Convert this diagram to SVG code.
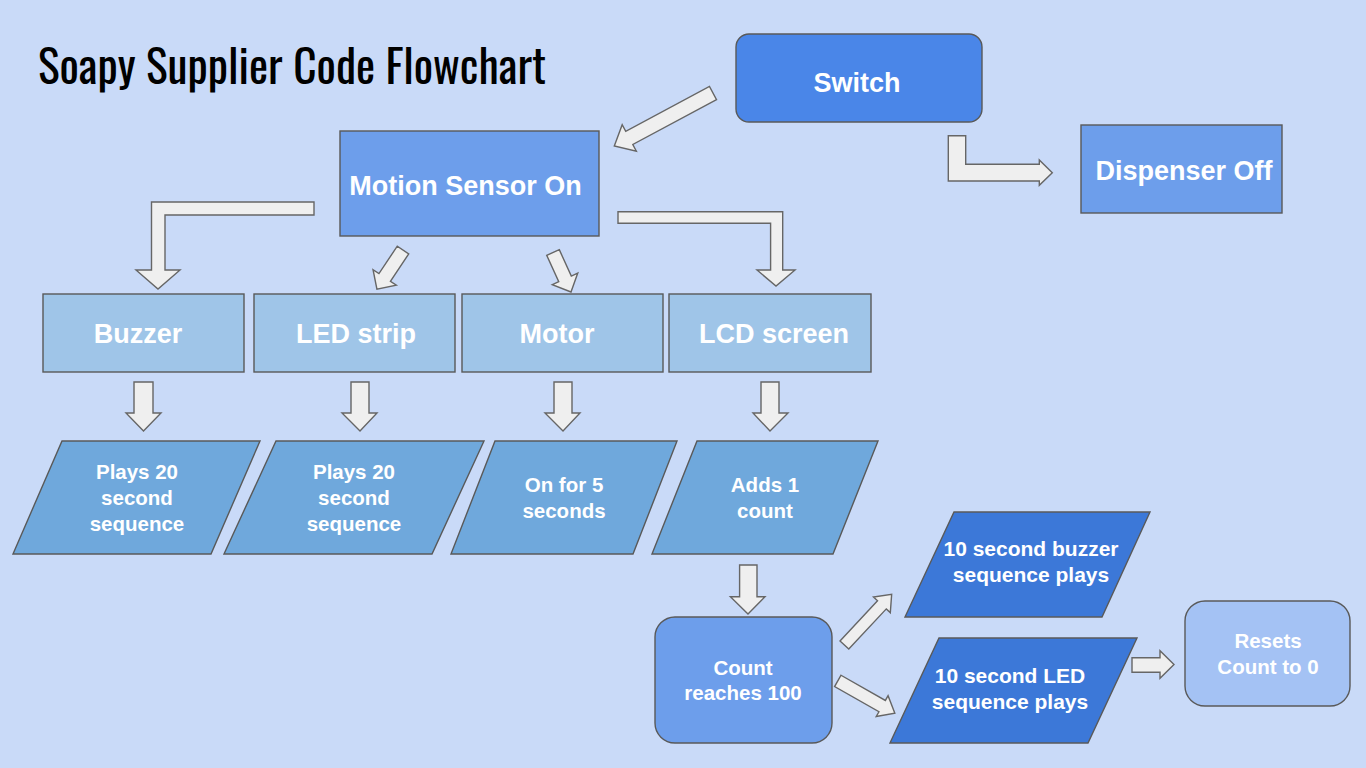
<svg xmlns="http://www.w3.org/2000/svg" width="1366" height="768" viewBox="0 0 1366 768">
<style>
.nd{stroke:#595959;stroke-width:1.4}
.ar{fill:#efefef;stroke:#666666;stroke-width:1.4;stroke-linejoin:miter}
.t{font-family:"Liberation Sans",Arial,sans-serif;font-weight:bold;fill:#ffffff;text-anchor:middle}
.big{font-size:27px}
.sm{font-size:20.5px}
.sm2{font-size:21px}
</style>
<rect x="0" y="0" width="1366" height="768" fill="#c9daf8"/>
<text x="38" y="83.5" font-family="Oswald,'Liberation Sans Narrow','Liberation Sans',sans-serif" font-size="46" fill="#000000" textLength="508" lengthAdjust="spacingAndGlyphs">Soapy Supplier Code Flowchart</text>

<g id="connectors">
  <path class="ar" transform="translate(713,93) rotate(151.8)" d="M0,-7.5 L95,-7.5 L95,-15 L112,0 L95,15 L95,7.5 L0,7.5 Z"/>
  <path class="ar" d="M948.3,135.7 L965.7,135.7 L965.7,164.3 L1039.3,164.3 L1039.3,160 L1052.3,172.7 L1039.3,185.3 L1039.3,181 L948.3,181 Z"/>
  <path class="ar" d="M314,202 L151.5,202 L151.5,270 L136,270 L158,289 L180,270 L165,270 L165,215 L314,215 Z"/>
  <path class="ar" d="M618,211.7 L782.7,211.7 L782.7,270 L795,270 L776,286 L757,270 L770.6,270 L770.6,223.3 L618,223.3 Z"/>
  <path class="ar" transform="translate(403,250) rotate(123.7)" d="M0,-6.9 L33,-6.9 L33,-14 L47,0 L33,14 L33,6.9 L0,6.9 Z"/>
  <path class="ar" transform="translate(553,252.5) rotate(65.5)" d="M0,-6.9 L29,-6.9 L29,-14 L43.4,0 L29,14 L29,6.9 L0,6.9 Z"/>
  <path class="ar" d="M134,382 L153,382 L153,413 L161,413 L143.5,431 L126,413 L134,413 Z"/>
  <path class="ar" d="M351,382 L369,382 L369,413 L377,413 L360,431 L342,413 L351,413 Z"/>
  <path class="ar" d="M554,382 L572,382 L572,413 L580,413 L563,431 L545,413 L554,413 Z"/>
  <path class="ar" d="M761,382 L779,382 L779,413 L788,413 L770,431 L753,413 L761,413 Z"/>
  <path class="ar" d="M739.6,565 L757,565 L757,596.7 L765,596.7 L748,614 L730.4,596.7 L739.6,596.7 Z"/>
  <path class="ar" transform="translate(844.4,645) rotate(-47)" d="M0,-6 L55,-6 L55,-11.5 L69.3,0 L55,11.5 L55,6 L0,6 Z"/>
  <path class="ar" transform="translate(837.8,680.9) rotate(29.6)" d="M0,-6.5 L51,-6.5 L51,-12 L65.6,0 L51,12 L51,6.5 L0,6.5 Z"/>
  <path class="ar" d="M1132,657.7 L1160,657.7 L1160,650.7 L1174,664.5 L1160,678.3 L1160,672.3 L1132,672.3 Z"/>
</g>

<g id="switch">
  <rect class="nd" x="736" y="34" width="246" height="88" rx="13" fill="#4a86e8"/>
  <text class="t big" x="857" y="91.5">Switch</text>
</g>
<g id="motion-sensor">
  <rect class="nd" x="340" y="131" width="259" height="105" fill="#6d9eeb"/>
  <text class="t big" x="465.5" y="195">Motion Sensor On</text>
</g>
<g id="dispenser-off">
  <rect class="nd" x="1081" y="125" width="201" height="88" fill="#6d9eeb"/>
  <text class="t big" x="1184" y="180">Dispenser Off</text>
</g>

<g id="buzzer">
  <rect class="nd" x="43" y="294" width="201" height="78" fill="#9fc5e8"/>
  <text class="t big" x="138" y="342.5">Buzzer</text>
</g>
<g id="led-strip">
  <rect class="nd" x="254" y="294" width="201" height="78" fill="#9fc5e8"/>
  <text class="t big" x="356" y="342.5">LED strip</text>
</g>
<g id="motor">
  <rect class="nd" x="462" y="294" width="201" height="78" fill="#9fc5e8"/>
  <text class="t big" x="557" y="342.5">Motor</text>
</g>
<g id="lcd-screen">
  <rect class="nd" x="669" y="294" width="202" height="78" fill="#9fc5e8"/>
  <text class="t big" x="774" y="342.5">LCD screen</text>
</g>

<g id="buzzer-out">
  <polygon class="nd" points="62,441 260,441 211,554 13,554" fill="#6fa8dc"/>
  <text class="t sm" x="137" y="479">Plays 20</text>
  <text class="t sm" x="137" y="505">second</text>
  <text class="t sm" x="137" y="531">sequence</text>
</g>
<g id="led-out">
  <polygon class="nd" points="276,441 484,441 432,554 224,554" fill="#6fa8dc"/>
  <text class="t sm" x="354" y="479">Plays 20</text>
  <text class="t sm" x="354" y="505">second</text>
  <text class="t sm" x="354" y="531">sequence</text>
</g>
<g id="motor-out">
  <polygon class="nd" points="495,441 677,441 633,554 451,554" fill="#6fa8dc"/>
  <text class="t sm" x="564" y="492">On for 5</text>
  <text class="t sm" x="564" y="518">seconds</text>
</g>
<g id="lcd-out">
  <polygon class="nd" points="697,441 878,441 833,554 652,554" fill="#6fa8dc"/>
  <text class="t sm" x="765" y="492">Adds 1</text>
  <text class="t sm" x="765" y="518">count</text>
</g>

<g id="count">
  <rect class="nd" x="655" y="617" width="177" height="126" rx="20" fill="#6d9eeb"/>
  <text class="t sm" x="743" y="675">Count</text>
  <text class="t sm" x="743" y="700">reaches 100</text>
</g>
<g id="buzzer-seq">
  <polygon class="nd" points="954,512 1150,512 1102,617 905,617" fill="#3c78d8"/>
  <text class="t sm2" x="1031" y="556">10 second buzzer</text>
  <text class="t sm2" x="1031" y="582">sequence plays</text>
</g>
<g id="led-seq">
  <polygon class="nd" points="939,638 1137,638 1088,743 890,743" fill="#3c78d8"/>
  <text class="t sm2" x="1010" y="683">10 second LED</text>
  <text class="t sm2" x="1010" y="709">sequence plays</text>
</g>
<g id="resets">
  <rect class="nd" x="1185" y="601" width="165" height="105" rx="20" fill="#a4c2f4"/>
  <text class="t sm" x="1268" y="648">Resets</text>
  <text class="t sm" x="1268" y="674">Count to 0</text>
</g>
</svg>
